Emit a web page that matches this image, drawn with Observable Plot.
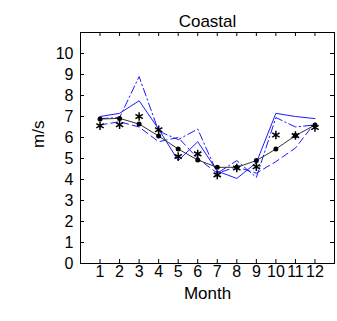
<!DOCTYPE html>
<html><head><meta charset="utf-8">
<script src="https://cdn.jsdelivr.net/npm/d3@7"></script>
<script src="https://cdn.jsdelivr.net/npm/@observablehq/plot@0.6"></script>
<style>body{margin:0;background:#fff}svg{font-family:"Liberation Sans",Arial,sans-serif}</style>
</head><body><div id="chart"></div>
<script>
const months = [1,2,3,4,5,6,7,8,9,10,11,12];
const yTicks = [0,1,2,3,4,5,6,7,8,9,10];
const meanLine = [6.88,6.91,6.64,6.07,5.45,4.93,4.58,4.58,4.90,5.45,6.09,6.59];
const stars = [6.56,6.61,7.0,6.37,5.1,5.22,4.22,4.55,4.61,6.12,6.09,6.48];
const blueSolid = [7.0,7.15,7.75,6.4,4.9,5.8,4.4,4.05,4.8,7.15,7.0,6.9];
const blueDashDot = [6.9,6.95,8.9,6.3,5.9,6.4,4.3,4.9,4.1,6.95,6.5,6.6];
const blueDashed = [6.6,6.75,6.5,5.8,6.0,5.0,4.3,4.6,4.3,4.85,5.5,6.7];

const rows = arr => months.map((m,i)=>({m, v: arr[i]}));
const W = 337, H = 321, mt = 32, mb = 58, ml = 80, mr = 3;
const fh = H - mt - mb;
const chart = Plot.plot({
  width: W, height: H,
  marginTop: mt, marginBottom: mb, marginLeft: ml, marginRight: mr,
  x: {domain: [0,13], ticks: months, tickFormat: d=>String(d), label: null},
  y: {domain: [0,11], ticks: yTicks, label: null},
  style: {fontSize: "16px", color: "#000", background: "#fff"},
  marks: [
    Plot.axisX(months, {tickSize: 0, tickPadding: 2, fontSize: 16}),
    Plot.axisY(yTicks, {tickSize: 0, tickPadding: 7, fontSize: 16}),
    Plot.tickX(months, {x: d=>d, insetTop: fh-4, stroke: "#000"}),
    Plot.tickX(months, {x: d=>d, insetBottom: fh-4, stroke: "#000"}),
    Plot.tickY(yTicks, {y: d=>d, insetRight: (W-ml-mr)-4, stroke: "#000"}),
    Plot.tickY(yTicks, {y: d=>d, insetLeft: (W-ml-mr)-4, stroke: "#000"}),
    Plot.lineY(rows(blueSolid), {x:"m", y:"v", stroke:"#1a1aff", strokeWidth:1}),
    Plot.lineY(rows(blueDashDot), {x:"m", y:"v", stroke:"#1a1aff", strokeWidth:1, strokeDasharray:"8,3,1.5,3"}),
    Plot.lineY(rows(blueDashed), {x:"m", y:"v", stroke:"#1a1aff", strokeWidth:1, strokeDasharray:"7,4"}),
    Plot.lineY(rows(meanLine), {x:"m", y:"v", stroke:"#333", strokeWidth:1}),
    Plot.dot(rows(meanLine), {x:"m", y:"v", r:2.5, fill:"#000", stroke:"none"}),
    Plot.dot(rows(stars), {x:"m", y:"v", symbol:"asterisk", r:4, stroke:"#000", strokeWidth:1.5}),
    Plot.frame({stroke:"#000"}),
    Plot.text(["Coastal"], {frameAnchor:"top", dy:-18, fontSize:17, fill:"#000"}),
    Plot.text(["Month"], {frameAnchor:"bottom", dy:35, fontSize:17, fill:"#000"}),
    Plot.text(["m/s"], {frameAnchor:"left", dx:-42, rotate:-90, fontSize:17, fill:"#000"})
  ]
});
document.getElementById("chart").append(chart);
</script></body></html>
